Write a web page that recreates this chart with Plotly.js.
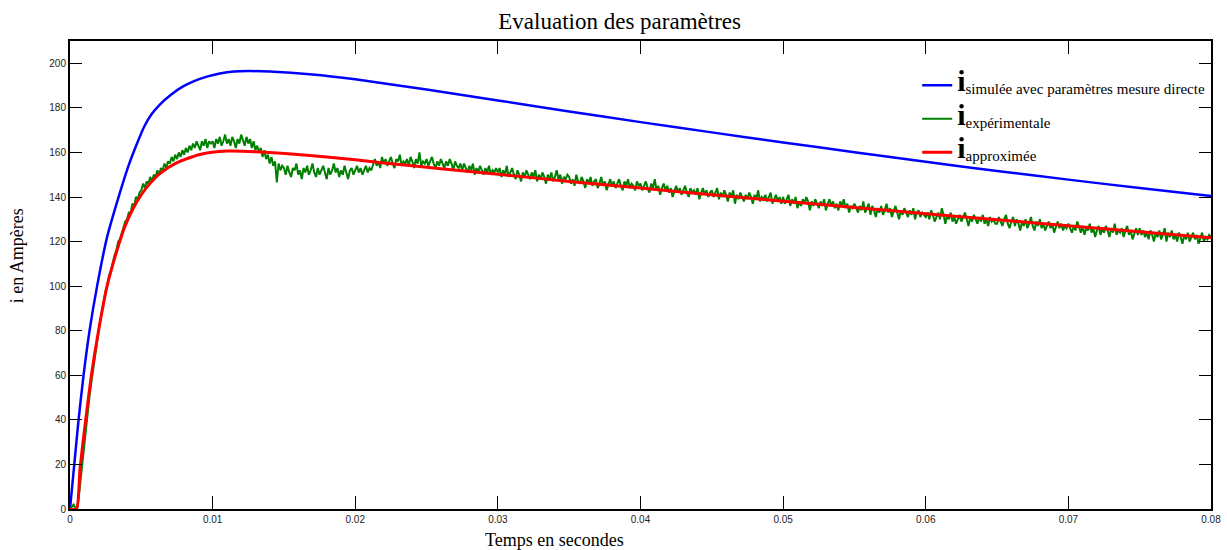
<!DOCTYPE html>
<html>
<head>
<meta charset="utf-8">
<script src="https://cdn.plot.ly/plotly-3.0.1.min.js"></script>
<style>html,body{margin:0;padding:0;background:#fff;}#chart{width:1227px;height:550px;}</style>
</head>
<body>
<div id="chart"></div>
<script>
// Simulated current (direct-measurement parameters)
const blueT = [0, 0.0003, 0.0006, 0.00095, 0.00137, 0.0019, 0.0026, 0.0035, 0.0041, 0.0047, 0.0052, 0.0057, 0.0063, 0.0071, 0.0079, 0.0087, 0.0096, 0.0105, 0.0115, 0.0125, 0.014, 0.017, 0.02, 0.025, 0.03, 0.035, 0.04, 0.045, 0.05, 0.055, 0.06, 0.065, 0.07, 0.075, 0.08];
const blueV = [0, 20, 40, 60, 80, 100, 122, 142, 154, 164, 171.5, 177, 181.5, 186, 189.5, 192, 194, 195.4, 196.3, 196.5, 196.3, 195, 192.8, 188.2, 183.3, 178.4, 173.6, 169, 164.5, 160.1, 155.8, 151.7, 147.8, 144, 140.4];

// Approximated current
const redT = [0, 0.00045, 0.0007, 0.0011, 0.0015, 0.002, 0.0026, 0.0032, 0.0038, 0.0044, 0.005, 0.0056, 0.0063, 0.0075, 0.0091, 0.011, 0.014, 0.018, 0.022, 0.026, 0.03, 0.035, 0.04, 0.045, 0.05, 0.055, 0.06, 0.065, 0.07, 0.075, 0.08];
const redV = [0, 0, 18, 40, 60, 80, 100, 114, 126, 134.5, 141, 146, 150.5, 155.4, 159.1, 160.6, 160, 158, 155.3, 152.7, 150.2, 147, 144, 141, 138.1, 135.3, 132.5, 129.8, 127.1, 124.4, 121.7];

// Experimental current, sampled every 0.125 ms from 0 to 0.08 s (one row = 5 ms)
const greenStep = 0.000125;
const greenV = [
  0, 1, 2, 0.5, 0, 6, 14, 22, 30, 37, 44, 51, 57, 63, 69, 74, 80, 85, 89, 94,
  98, 101, 105, 107, 111, 114, 116, 120, 121, 124, 126, 129, 130, 133, 133, 137, 136, 140, 139, 142,
  143, 146, 144, 147, 146, 149, 147, 150, 149, 152, 150, 153, 152, 155, 153, 156, 155, 158, 156, 159,
  157, 160, 158, 161, 159, 162, 160, 163, 161, 164, 162, 165, 163, 161, 165, 163, 166, 162, 165, 164,
  165, 162, 166, 164, 167, 163, 165, 168, 164, 166, 163, 167, 165, 162, 166, 164, 168, 165, 163, 167,
  164, 166, 162, 165, 161, 163, 160, 162, 158, 161, 157, 159, 155, 158, 154, 156, 146.5, 155, 152, 154,
  153, 150, 154, 151, 149, 153, 152, 155, 150, 152, 148, 153, 151, 154, 150, 152, 155, 151, 149, 153,
  150, 152, 154, 151, 148, 153, 150, 152, 155, 151, 153, 149, 152, 150, 154, 151, 148, 152, 153, 150,
  152, 154, 151, 153, 150, 152, 154, 151, 153, 152, 155, 157, 154, 156, 153, 158, 155, 157, 154, 156,
  158, 155, 153, 157, 156, 159, 154, 156, 155, 157, 154, 158, 156, 153, 157, 155, 160, 154, 156, 155,
  157, 154, 156, 158, 155, 153, 156, 154, 157, 155, 153, 156, 154, 157, 155, 152, 156, 154, 153, 155,
  152, 155, 153, 151, 154, 152, 155, 150, 153, 151, 154, 152, 150, 153, 151, 154, 150, 152, 151, 153,
  151, 153, 149, 152, 150, 154, 149, 151, 153, 150, 148, 152, 150, 147, 151, 149, 152, 150, 148, 151,
  149, 152, 147, 150, 148, 151, 149, 146, 150, 148, 151, 147, 149, 152, 148, 150, 146, 149, 148, 150,
  149, 146, 148, 145, 150, 147, 146, 149, 147, 144, 148, 146, 149, 145, 147, 148, 144, 146, 149, 145,
  147, 143, 146, 148, 145, 147, 144, 146, 148, 145, 143, 147, 145, 148, 144, 146, 145, 143, 147, 145,
  146, 143, 145, 147, 144, 142, 146, 144, 148, 143, 145, 141, 144, 146, 143, 145, 142, 144, 140, 143,
  145, 142, 144, 141, 143, 145, 142, 140, 144, 142, 143, 141, 144, 139, 142, 144, 141, 143, 140, 142,
  143, 140, 142, 144, 139, 142, 140, 143, 141, 138, 142, 140, 143, 137, 141, 139, 142, 140, 138, 141,
  139, 142, 140, 137, 141, 139, 143, 138, 140, 139, 141, 138, 140, 142, 137, 139, 141, 138, 140, 137,
  140, 137, 139, 141, 136, 139, 137, 140, 135, 138, 136, 139, 137, 140, 138, 134, 138, 136, 139, 137,
  135, 138, 136, 139, 134, 137, 139, 136, 138, 135, 137, 134, 138, 136, 139, 135, 137, 133, 136, 135,
  137, 135, 133, 136, 134, 138, 133, 135, 137, 132, 136, 134, 131, 135, 133, 136, 132, 134, 137, 133,
  135, 131, 134, 136, 133, 130, 134, 132, 135, 133, 131, 134, 132, 135, 130, 133, 134, 131, 133, 132,
  131, 133, 130, 134, 132, 129, 131, 133, 130, 135, 132, 128, 132, 130, 133, 129, 131, 128, 130, 132,
  129, 131, 133, 130, 127, 131, 129, 132, 130, 128, 131, 129, 132, 128, 130, 127, 131, 129, 130, 128,
  128, 131, 129, 127, 130, 132, 128, 126, 129, 131, 127, 130, 128, 125, 129, 127, 130, 126, 128, 131,
  127, 125, 129, 127, 130, 126, 128, 125, 127, 129, 126, 128, 124, 127, 129, 126, 128, 125, 127, 126,
  128, 126, 124, 127, 125, 129, 126, 124, 127, 123, 126, 125, 128, 124, 126, 122, 125, 127, 123, 126,
  124, 127, 125, 122, 126, 124, 128, 123, 125, 124, 126, 122, 125, 127, 123, 125, 121, 124, 126, 123,
  126, 123, 125, 122, 124, 121, 125, 123, 120, 124, 122, 125, 121, 123, 126, 120, 124, 122, 125, 121,
  123, 120, 124, 122, 119, 123, 121, 124, 120, 122, 124, 121, 123, 119, 122, 124, 120, 122, 121, 123,
  122
];
const greenT = greenV.map((_, i) => i * greenStep);

const xTickVals = [0, 0.01, 0.02, 0.03, 0.04, 0.05, 0.06, 0.07, 0.08];
const xTickText = ['0', '0.01', '0.02', '0.03', '0.04', '0.05', '0.06', '0.07', '0.08'];
const yTickVals = [0, 20, 40, 60, 80, 100, 120, 140, 160, 180, 200];

const serif = 'Liberation Serif, Times New Roman, serif';
function legendLabel(s) {
  return '<span style="font-family:Liberation Serif;font-size:30px;font-weight:bold">i</span>' +
         '<sub><span style="font-family:Liberation Serif;font-size:15px">' + s + '</span></sub>';
}

const traces = [
  {x: blueT, y: blueV, type: 'scatter', mode: 'lines', line: {color: '#0000ff', width: 2.5, shape: 'spline', smoothing: 0.6},
   name: legendLabel('simulée avec paramètres mesure directe'), legendgroup: 'a'},
  {x: greenT, y: greenV, type: 'scatter', mode: 'lines', line: {color: '#008000', width: 2},
   name: legendLabel('expérimentale'), legendgroup: 'b'},
  {x: redT, y: redV, type: 'scatter', mode: 'lines', line: {color: '#ff0000', width: 3, shape: 'spline', smoothing: 0.6},
   name: legendLabel('approximée'), legendgroup: 'c'}
];

const axisFont = {family: 'Liberation Sans, Arial, sans-serif', size: 10, color: '#222'};

const layout = {
  width: 1227, height: 550,
  margin: {l: 70, r: 16, t: 41, b: 41},
  paper_bgcolor: '#fff', plot_bgcolor: '#fff',
  showlegend: true,
  title: {text: 'Evaluation des paramètres', font: {family: serif, size: 23, color: '#000'},
          x: 0.505, xanchor: 'center', y: 0.962, yanchor: 'middle', yref: 'container'},
  xaxis: {
    range: [0, 0.08], tickvals: xTickVals, ticktext: xTickText,
    ticks: 'inside', ticklen: 13, tickwidth: 1, tickcolor: '#000',
    showline: true, linecolor: '#000', linewidth: 2, mirror: 'allticks',
    showgrid: false, zeroline: false, tickfont: axisFont
  },
  yaxis: {
    range: [0, 210], tickvals: yTickVals,
    ticks: 'inside', ticklen: 12, tickwidth: 1, tickcolor: '#000',
    showline: true, linecolor: '#000', linewidth: 2, mirror: 'allticks',
    showgrid: false, zeroline: false, tickfont: axisFont
  },
  annotations: [
    {text: 'Temps en secondes', xref: 'paper', yref: 'paper', x: 0.425, y: -0.066,
     xanchor: 'center', yanchor: 'middle', showarrow: false, font: {family: serif, size: 18, color: '#000'}},
    {text: 'i en Ampères', xref: 'paper', yref: 'paper', x: -0.0464, y: 0.54, textangle: -90,
     xanchor: 'center', yanchor: 'middle', showarrow: false, font: {family: serif, size: 18, color: '#000'}}
  ],
  legend: {
    x: 0.7425, xanchor: 'left', y: 0.94, yanchor: 'top',
    bgcolor: 'rgba(0,0,0,0)', borderwidth: 0,
    font: {family: serif, size: 15, color: '#000'},
    tracegroupgap: 11
  }
};

Plotly.newPlot('chart', traces, layout, {staticPlot: true, displayModeBar: false});
</script>
</body>
</html>
